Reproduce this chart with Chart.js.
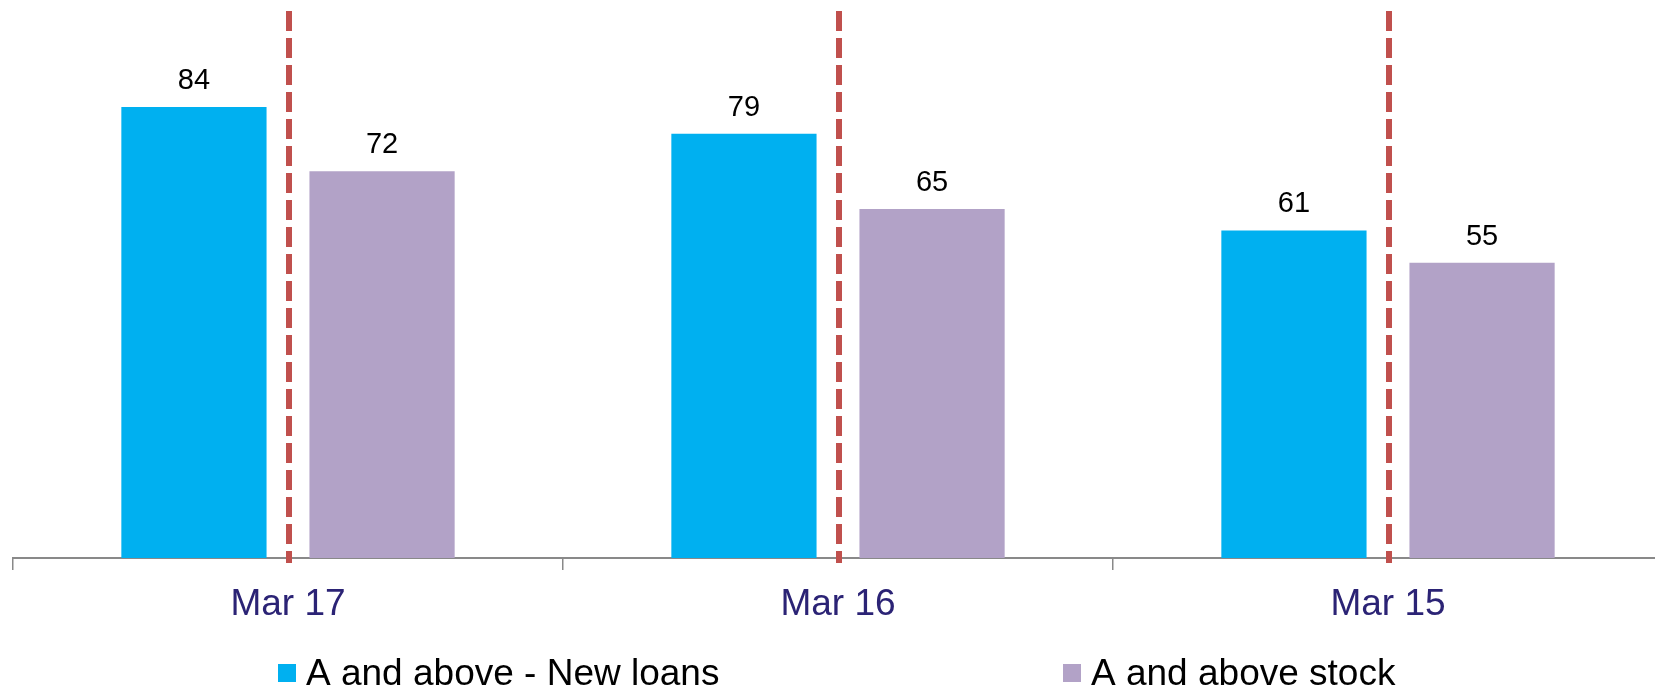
<!DOCTYPE html>
<html>
<head>
<meta charset="utf-8">
<script src="https://cdn.jsdelivr.net/npm/chart.js@4.4.1/dist/chart.umd.min.js"></script>
<style>
  html, body { margin: 0; padding: 0; background: #ffffff; overflow: hidden; }
  #wrap { width: 1663px; height: 689px; position: relative; }
</style>
</head>
<body>
<div id="wrap"><canvas id="c"></canvas></div>
<script>
// ---- data ----
const categories = ["Mar 17", "Mar 16", "Mar 15"];
const seriesNames = ["A and above - New loans", "A and above stock"];
const newLoans = [84, 79, 61];
const stock = [72, 65, 55];

// ---- styles ----
const FONT = "'Liberation Sans', Arial, Helvetica, sans-serif";
const BLUE = "#00B0F0";
const PURPLE = "#B2A2C7";
const RED = "#C0504D";
const AXIS = "#898989";

const valueLabels = {
  id: "valueLabels",
  afterDatasetsDraw(chart) {
    const ctx = chart.ctx;
    ctx.save();
    ctx.font = "29px " + FONT;
    ctx.fillStyle = "#000000";
    ctx.textAlign = "center";
    ctx.textBaseline = "alphabetic";
    chart.data.datasets.forEach((ds, di) => {
      const meta = chart.getDatasetMeta(di);
      meta.data.forEach((bar, i) => {
        ctx.fillText(String(ds.data[i]), bar.x, bar.y - 18);
      });
    });
    ctx.restore();
  }
};

const dividers = {
  id: "dividers",
  afterDatasetsDraw(chart) {
    const ctx = chart.ctx;
    const xs = chart.scales.x;
    const area = chart.chartArea;
    ctx.save();
    ctx.strokeStyle = RED;
    ctx.lineWidth = 6;
    ctx.setLineDash([20, 7]);
    categories.forEach((c, i) => {
      const x = xs.getPixelForValue(i) + 1;
      ctx.beginPath();
      ctx.moveTo(x, area.top - 10);
      ctx.lineTo(x, area.bottom + 5);
      ctx.stroke();
    });
    ctx.restore();
  }
};

const customLegend = {
  id: "customLegend",
  afterDraw(chart) {
    const ctx = chart.ctx;
    const lefts = [278, 1063];
    ctx.save();
    ctx.font = "37px " + FONT;
    ctx.textAlign = "left";
    ctx.textBaseline = "alphabetic";
    chart.data.datasets.forEach((ds, i) => {
      ctx.fillStyle = ds.backgroundColor;
      ctx.fillRect(lefts[i], 664, 18, 18);
      ctx.fillStyle = "#000000";
      ctx.fillText(ds.label, lefts[i] + 28, 685);
    });
    ctx.restore();
  }
};

new Chart(document.getElementById("c"), {
  type: "bar",
  data: {
    labels: categories,
    datasets: [
      { label: seriesNames[0], data: newLoans, backgroundColor: BLUE, borderWidth: 0 },
      { label: seriesNames[1], data: stock, backgroundColor: PURPLE, borderWidth: 0 }
    ]
  },
  options: {
    responsive: true,
    maintainAspectRatio: false,
    animation: false,
    layout: { padding: { left: 13, right: 0, top: 21, bottom: 70 } },
    datasets: { bar: { categoryPercentage: 0.684, barPercentage: 0.772 } },
    scales: {
      x: {
        offset: true,
        grid: { display: true, drawOnChartArea: false, drawTicks: true, tickLength: 12, color: AXIS, lineWidth: 1.5 },
        border: { display: true, color: AXIS, width: 2 },
        ticks: { color: "#2B2375", font: { family: FONT, size: 37 }, padding: 13, maxRotation: 0 },
        afterFit(scale) { scale.height = 61; }
      },
      y: {
        display: false,
        min: 0,
        max: 100
      }
    },
    plugins: {
      legend: { display: false },
      tooltip: { enabled: false }
    }
  },
  plugins: [dividers, valueLabels, customLegend]
});
</script>
</body>
</html>
